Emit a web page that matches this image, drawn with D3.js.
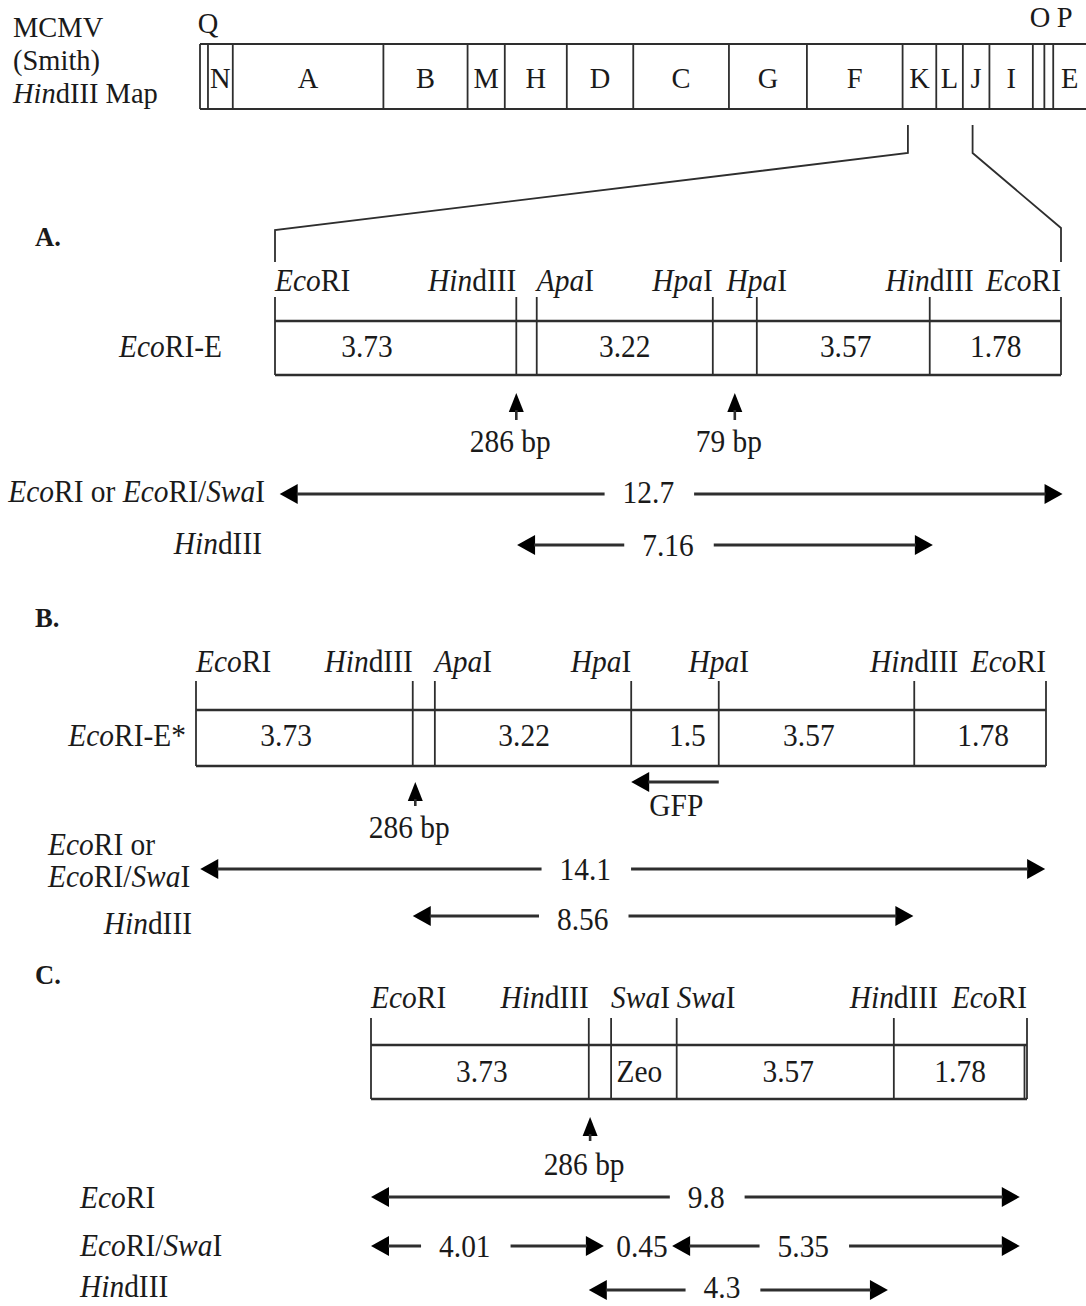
<!DOCTYPE html>
<html><head><meta charset="utf-8">
<script src="https://cdn.jsdelivr.net/npm/d3@7"></script>
<style>body{margin:0;background:#fff} svg{display:block}</style>
</head><body>
<script>
// ---------------- DATA ----------------
// MCMV HindIII map (band boundaries in % of genome)
const mapBands  = ["Q","N","A","B","M","H","D","C","G","F","K","L","J","I","O","P","E"];
const mapBounds = [0,0.9,3.7,20.7,30.2,34.4,41.4,48.9,59.7,68.5,79.3,83.1,86.1,89.1,94.0,95.3,96.3,100];
const mapAboveLabels = ["Q","O","P"];
const mapAboveAt     = [0.9, 94.8, 97.6];
const zoomFrom = [79.9, 87.2];
const mapTitle = ["MCMV","(Smith)","HindIII Map"];

// Construct A: EcoRI-E (schematic positions 0-100)
const sitesA    = ["EcoRI","HindIII","ApaI","HpaI","HpaI","HindIII","EcoRI"];
const siteAtA   = [0,30.7,33.3,55.7,61.3,83.3,100];
const anchorA   = ["start","end","start","end","middle","middle","end"];
const segLabelsA= ["3.73","","3.22","","3.57","1.78"];
const segAtA    = [11.7,null,44.5,null,72.6,91.7];
const markersA  = ["286 bp","79 bp"];
const markerAtA = [30.7,58.5];
const digestNamesA = ["EcoRI or EcoRI/SwaI","HindIII"];
const digestFragsA = [
  [{from:0.6,to:100.2,label:"12.7",at:47.5}],
  [{from:30.8,to:83.7,label:"7.16",at:50.0}]
];

// Construct B: EcoRI-E*
const sitesB    = ["EcoRI","HindIII","ApaI","HpaI","HpaI","HindIII","EcoRI"];
const siteAtB   = [0,25.5,28.1,51.2,61.5,84.5,100];
const anchorB   = ["start","end","start","end","middle","middle","end"];
const segLabelsB= ["3.73","","3.22","1.5","3.57","1.78"];
const segAtB    = [10.6,null,38.6,57.8,72.1,92.6];
const markersB  = ["286 bp"];
const markerAtB = [25.8];
const gfpB      = {from:61.5,to:51.2,label:"GFP",at:56.5};
const digestNamesB = ["EcoRI or\nEcoRI/SwaI","HindIII"];
const digestFragsB = [
  [{from:0.5,to:99.9,label:"14.1",at:45.8}],
  [{from:25.5,to:84.4,label:"8.56",at:45.5}]
];

// Construct C
const sitesC    = ["EcoRI","HindIII","SwaI","SwaI","HindIII","EcoRI"];
const siteAtC   = [0,33.2,36.6,46.6,79.7,100];
const anchorC   = ["start","end","start","start","middle","end"];
const segLabelsC= ["3.73","","Zeo","3.57","1.78"];
const segAtC    = [16.9,null,40.9,63.6,89.8];
const markersC  = ["286 bp"];
const markerAtC = [33.4];
const digestNamesC = ["EcoRI","EcoRI/SwaI","HindIII"];
const digestFragsC = [
  [{from:0,to:98.9,label:"9.8",at:51.1}],
  [{from:0,to:35.5,label:"4.01",at:14.3},{from:35.5,to:45.9,label:"0.45",at:41.3,noArrow:true},{from:45.9,to:98.9,label:"5.35",at:65.9}],
  [{from:33.2,to:78.8,label:"4.3",at:53.5}]
];

// ---------------- DRAWING ----------------
const W=1086,H=1306;
const FONT="'Liberation Serif','Times New Roman',serif";
const INK="#1a1a1a", LINE="#2e2e2e";
const SX=0.92;
const svg=d3.select("body").append("svg").attr("width",W).attr("height",H);

function parts(s){
  const out=[];let last=0;const re=/(Eco|Hin|Apa|Hpa|Swa)(?=(RI|dIII|I))/g;let m;
  while((m=re.exec(s))){ if(m.index>last) out.push([s.slice(last,m.index),false]); out.push([m[1],true]); last=m.index+m[1].length; }
  if(last<s.length) out.push([s.slice(last),false]);
  return out;
}
function txt(g,x,y,s,o={}){
  const size=o.size||32, sx=o.sx||SX, anchor=o.anchor||"start";
  const t=g.append("text").attr("transform",`translate(${x},${y}) scale(${sx},1)`)
    .attr("text-anchor",anchor).attr("font-family",FONT).attr("font-size",size)
    .attr("font-weight",o.weight||"normal").attr("fill",INK);
  parts(s).forEach(([p,it])=>t.append("tspan").text(p).attr("font-style",it?"italic":"normal"));
  t.sx=sx;
  return t;
}
function line(g,x1,y1,x2,y2,w){
  g.append("line").attr("x1",x1).attr("y1",y1).attr("x2",x2).attr("y2",y2)
   .attr("stroke",LINE).attr("stroke-width",w||2);
}
function dArrow(g,x1,x2,y,f,lx,dy){
  const HL=18,HH=10;
  let gL=null,gR=null;
  if(f.label){
    const t=txt(g,lx,y+dy,f.label,{anchor:"middle"});
    const w=t.node().getBBox().width*t.sx;
    gL=lx-w/2-18; gR=lx+w/2+20;
  }
  if(f.noArrow) return;
  g.append("path").attr("d",`M${x1},${y}L${x1+HL},${y-HH}L${x1+HL},${y+HH}Z`).attr("fill","#000");
  g.append("path").attr("d",`M${x2},${y}L${x2-HL},${y-HH}L${x2-HL},${y+HH}Z`).attr("fill","#000");
  const a=x1+HL-1,b=x2-HL+1;
  if(gL!=null){ if(gL>a) line(g,a,y,gL,y,2.8); if(b>gR) line(g,gR,y,b,y,2.8); }
  else line(g,a,y,b,y,2.8);
}
function upArrow(g,x,top,bot){
  g.append("path").attr("d",`M${x},${top}L${x-7.5},${top+19}L${x+7.5},${top+19}Z`).attr("fill","#000");
  line(g,x,top+17,x,bot,2.6);
}

// ---- Top map ----
const gm=svg.append("g");
const mx=d3.scaleLinear().domain([0,100]).range([200,1086]);
mapTitle.forEach((s,i)=>txt(gm,13,37+i*33,s,{size:30,sx:0.95}));
const mTop=44,mBot=109;
line(gm,mx(0),mTop,mx(100),mTop,2.2);
line(gm,mx(0),mBot,mx(100),mBot,2.2);
mapBounds.forEach(b=>{ if(b<100) line(gm,mx(b),mTop,mx(b),mBot,1.8); });
mapBands.forEach((b,i)=>{
  if(mapAboveLabels.includes(b)) return;
  const c=(mx(mapBounds[i])+mx(mapBounds[i+1]))/2;
  txt(gm,c,88,b,{size:30,sx:0.95,anchor:"middle"});
});
mapAboveLabels.forEach((b,i)=>txt(gm,mx(mapAboveAt[i]),b==="Q"?33:27,b,{size:30,sx:0.95,anchor:"middle"}));

// ---- construct drawing ----
function drawConstruct(c){
  const g=svg.append("g");
  const x=d3.scaleLinear().domain([0,100]).range([c.left,c.right]);
  txt(g,35,c.titleY,c.title,{size:28,sx:0.95,weight:"bold"});
  c.sites.forEach((s,i)=>{
    txt(g,x(c.siteAt[i]),c.labelY,s,{anchor:c.anchor[i]});
    line(g,x(c.siteAt[i]),c.tickTop,x(c.siteAt[i]),c.boxBot,1.8);
  });
  line(g,x(0),c.boxTop,x(100),c.boxTop,2.6);
  line(g,x(0),c.boxBot,x(100),c.boxBot,2.6);
  if(c.doubleEnd) line(g,x(100)-2.5,c.boxTop,x(100)-2.5,c.boxBot,1.8);
  c.segLabels.forEach((s,i)=>{ if(s) txt(g,x(c.segAt[i]),c.valY,s,{anchor:"middle"}); });
  if(c.name) txt(g,c.nameX,c.valY,c.name,{anchor:"end"});
  c.markers.forEach((m,i)=>{
    upArrow(g,x(c.markerAt[i]),c.markTop,c.markBot);
    txt(g,x(c.markerAt[i])-6,c.markLabelY,m,{anchor:"middle"});
  });
  if(c.gfp){
    const y=c.gfpY, x1=x(c.gfp.to), x2=x(c.gfp.from);
    g.append("path").attr("d",`M${x1},${y}L${x1+18},${y-10}L${x1+18},${y+10}Z`).attr("fill","#000");
    line(g,x1+17,y,x2,y,2.8);
    txt(g,x(c.gfp.at),c.gfpLabelY,c.gfp.label,{anchor:"middle"});
  }
  c.digestNames.forEach((n,i)=>{
    const L=c.digestLabel[i];
    n.split("\n").forEach((ln,j)=>txt(g,L.x[j]!==undefined?L.x[j]:L.x[0],L.y[j],ln,{anchor:L.anchor[j]||L.anchor[0]}));
    c.digestFrags[i].forEach(f=>dArrow(g,x(f.from),x(f.to),c.digestY[i],f,x(f.at),c.digestDy[i]));
  });
}

drawConstruct({title:"A.",titleY:246,left:275,right:1061,
  sites:sitesA,siteAt:siteAtA,anchor:anchorA,segLabels:segLabelsA,segAt:segAtA,
  labelY:291,tickTop:297,boxTop:321,boxBot:375,valY:357,name:"EcoRI-E",nameX:222,
  markers:markersA,markerAt:markerAtA,markTop:393,markBot:420,markLabelY:452,
  digestNames:digestNamesA,digestFrags:digestFragsA,digestY:[494,545],digestDy:[9,11],
  digestLabel:[{x:[265],y:[502],anchor:["end"]},{x:[262],y:[554],anchor:["end"]}]});

// expansion lines from map to construct A
const ax=d3.scaleLinear().domain([0,100]).range([275,1061]);
svg.append("path").attr("d",`M${mx(zoomFrom[0])},125V153L${ax(0)},230V262`).attr("fill","none").attr("stroke",LINE).attr("stroke-width",1.8);
svg.append("path").attr("d",`M${mx(zoomFrom[1])},125V153L${ax(100)},228V262`).attr("fill","none").attr("stroke",LINE).attr("stroke-width",1.8);

drawConstruct({title:"B.",titleY:627,left:196,right:1046,
  sites:sitesB,siteAt:siteAtB,anchor:anchorB,segLabels:segLabelsB,segAt:segAtB,
  labelY:672,tickTop:681,boxTop:710,boxBot:766,valY:746,name:"EcoRI-E*",nameX:186,
  markers:markersB,markerAt:markerAtB,markTop:782,markBot:806,markLabelY:838,
  gfp:gfpB,gfpY:782,gfpLabelY:816,
  digestNames:digestNamesB,digestFrags:digestFragsB,digestY:[869,916],digestDy:[11,14],
  digestLabel:[{x:[48,48],y:[855,887],anchor:["start","start"]},{x:[192],y:[934],anchor:["end"]}]});

drawConstruct({title:"C.",titleY:984,left:371,right:1027,doubleEnd:true,
  sites:sitesC,siteAt:siteAtC,anchor:anchorC,segLabels:segLabelsC,segAt:segAtC,
  labelY:1008,tickTop:1018,boxTop:1045,boxBot:1099,valY:1082,
  markers:markersC,markerAt:markerAtC,markTop:1117,markBot:1141,markLabelY:1175,
  digestNames:digestNamesC,digestFrags:digestFragsC,digestY:[1197,1246,1290],digestDy:[11,11,8],
  digestLabel:[{x:[80],y:[1208],anchor:["start"]},{x:[80],y:[1256],anchor:["start"]},{x:[80],y:[1297],anchor:["start"]}]});
</script>
</body></html>
